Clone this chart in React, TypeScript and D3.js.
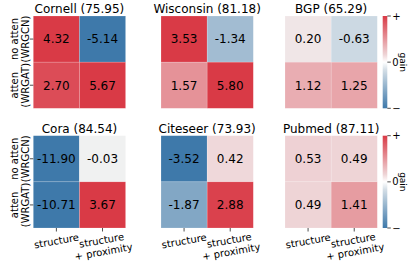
// @ts-nocheck
import React from 'react'
import * as d3 from 'd3'

// gains, rows: [no atten (WRGCN), atten (WRGAT)], cols: [structure, structure + proximity]
const datasets = ['Cornell', 'Wisconsin', 'BGP', 'Cora', 'Citeseer', 'Pubmed']
const accuracies = ['75.95', '81.18', '65.29', '84.54', '73.93', '87.11']
const cornellGain = [[4.32, -5.14], [2.70, 5.67]]
const wisconsinGain = [[3.53, -1.34], [1.57, 5.80]]
const bgpGain = [[0.20, -0.63], [1.12, 1.25]]
const coraGain = [[-11.90, -0.03], [-10.71, 3.67]]
const citeseerGain = [[-3.52, 0.42], [-1.87, 2.88]]
const pubmedGain = [[0.53, 0.49], [0.49, 1.41]]
const gains = [cornellGain, wisconsinGain, bgpGain, coraGain, citeseerGain, pubmedGain]

const rowLabels = [['no atten', '(WRGCN)'], ['atten', '(WRGAT)']]
const colLabels = [['structure'], ['structure', '+ proximity']]
const cbarTicks = [['+', 3], ['0', 0], ['\u2212', -3]]

const font = 'DejaVu Sans, sans-serif'
const colX = [33.3, 161, 285]
const rowY = [16, 135.7]
const size = 92.3

const color = d3.scaleLinear()
    .domain([-3, 0, 3])
    .range(['#3e79aa', '#f2f2f2', '#d93a46'])
    .clamp(true)

const fmt = (v: number) => v.toFixed(2)

const Panel = ({ idx }: { idx: number }) => {
    const col = idx % 3
    const row = Math.floor(idx / 3)
    const x0 = colX[col]
    const y0 = rowY[row]
    const x = d3.scaleBand().domain([0, 1]).range([0, size])
    const y = d3.scaleBand().domain([0, 1]).range([0, size])
    const data = gains[idx]

    return <g transform={`translate(${x0},${y0})`}>
        <text x={size / 2} y={-3} textAnchor="middle" fontSize={12} fontFamily={font} fill="#000">
            {datasets[idx]} ({accuracies[idx]})
        </text>
        {data.map((r, i) => r.map((v, j) => (
            <g key={`${i}-${j}`}>
                <rect x={x(j)} y={y(i)} width={x.bandwidth()} height={y.bandwidth()}
                    fill={color(v)} stroke="#fff" strokeOpacity={0.35} strokeWidth={0.5} />
                <text x={x(j) + x.bandwidth() / 2} y={y(i) + y.bandwidth() / 2} dy="0.36em"
                    textAnchor="middle" fontSize={12} fontFamily={font} fill="#000">{fmt(v)}</text>
            </g>
        )))}
        {col === 0 && rowLabels.map((lines, i) => {
            const cy = y(i) + y.bandwidth() / 2
            return <g key={'yl' + i}>
                <line x1={-3.5} x2={0} y1={cy} y2={cy} stroke="#222" strokeWidth={0.8} />
                {lines.map((t, k) => (
                    <text key={k} transform={`translate(${-15.5 + k * 11.2},${cy}) rotate(-90)`}
                        textAnchor="middle" fontSize={10} fontFamily={font} fill="#000">{t}</text>
                ))}
            </g>
        })}
        {row === 1 && colLabels.map((lines, j) => {
            const cx = x(j) + x.bandwidth() / 2
            const n = lines.length
            const cy = size + 13 + (n - 1) * 5
            return <g key={'xl' + j}>
                <line x1={cx} x2={cx} y1={size} y2={size + 3.5} stroke="#222" strokeWidth={0.8} />
                <g transform={`translate(${cx},${cy}) rotate(-10)`}>
                    {lines.map((t, k) => (
                        <text key={k} x={0} y={(k - (n - 1) / 2) * 11.5} dy="0.35em"
                            textAnchor="middle" fontSize={10} fontFamily={font} fill="#000">{t}</text>
                    ))}
                </g>
            </g>
        })}
    </g>
}

const Colorbar = ({ top, id }: { top: number, id: string }) => {
    const cx = 382.7
    const w = 4.6
    const yScale = d3.scaleLinear().domain([3, -3]).range([top, top + size])
    const stops = d3.range(-3, 3.01, 0.5)
    return <g>
        <defs>
            <linearGradient id={id} x1="0" y1="1" x2="0" y2="0">
                {stops.map(s => (
                    <stop key={s} offset={`${((s + 3) / 6) * 100}%`} stopColor={s === 0 ? '#ffffff' : color(s)} />
                ))}
            </linearGradient>
        </defs>
        <rect x={cx} y={top} width={w} height={size} fill={`url(#${id})`} />
        {cbarTicks.map(([t, v]) => (
            <g key={t}>
                <line x1={cx + w} x2={cx + w + 3.5} y1={yScale(v)} y2={yScale(v)} stroke="#222" strokeWidth={0.8} />
                <text x={cx + w + 5} y={yScale(v)} dy="0.35em" fontSize={10} fontFamily={font} fill="#000">{t}</text>
            </g>
        ))}
        <text transform={`translate(${400},${top + size / 2}) rotate(90)`} textAnchor="middle"
            fontSize={9} fontFamily={font} fill="#000">gain</text>
    </g>
}

export default function App() {
    return <svg width={415} height={266} style={{ position: 'absolute', left: 0, top: 0, background: '#fff' }}>
        <rect width={415} height={266} fill="#fff" />
        {datasets.map((d, i) => <Panel key={d} idx={i} />)}
        <Colorbar top={rowY[0]} id="cb0" />
        <Colorbar top={rowY[1]} id="cb1" />
    </svg>
}
